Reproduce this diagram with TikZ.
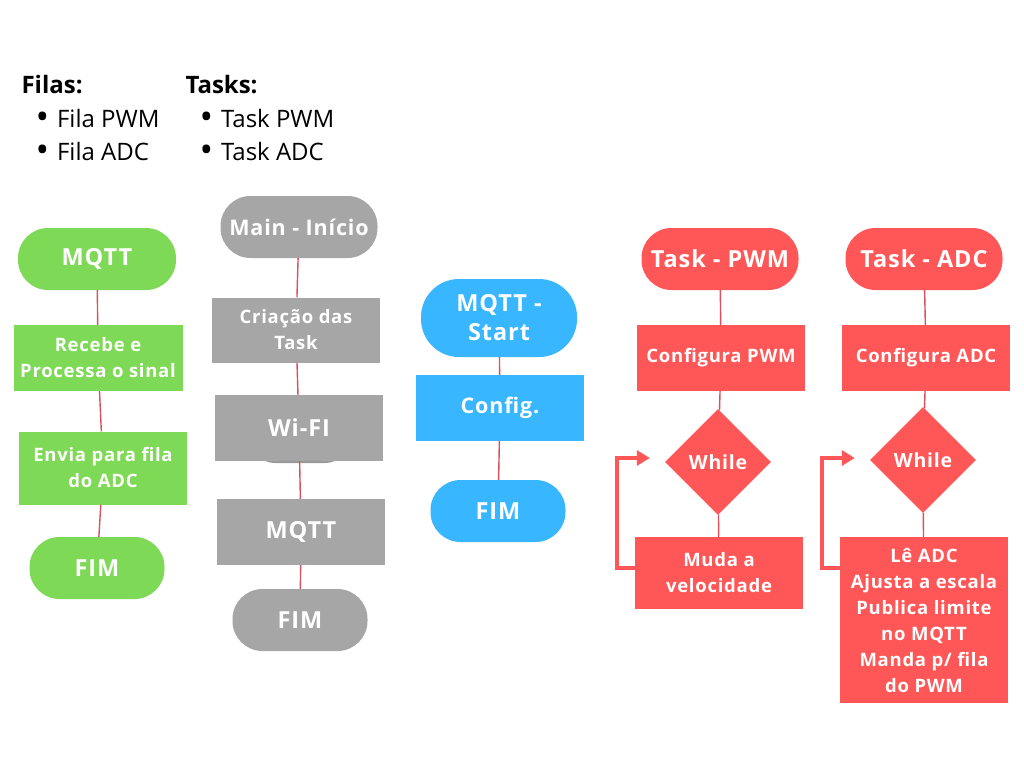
\documentclass[tikz,border=0pt]{standalone}
\usepackage{fontspec}
\setmainfont{Open Sans}
\newfontfamily\boxfont[LetterSpace=4]{Open Sans}
\usetikzlibrary{shapes.geometric,arrows.meta}
\definecolor{mqttgreen}{HTML}{7ED957}
\definecolor{maingray}{HTML}{A6A6A6}
\definecolor{startblue}{HTML}{38B6FF}
\definecolor{taskred}{HTML}{FF5757}
\definecolor{linkred}{HTML}{D9505E}
\newcommand{\bigdot}{\raisebox{-2.5pt}{\fontsize{36}{28}\selectfont\textbullet}\hspace{8pt}}

\begin{document}
\begin{tikzpicture}[x=1pt,y=-1pt,
    terminal/.style={rounded corners=30pt,minimum width=158pt,minimum height=62pt,
        text=white,font=\boxfont\bfseries\fontsize{23.5}{29}\selectfont,align=center,inner sep=0pt},
    process/.style={minimum width=168pt,minimum height=66pt,text=white,
        font=\boxfont\bfseries\fontsize{18.5}{26}\selectfont,align=center,inner sep=0pt},
    bigtext/.style={font=\boxfont\bfseries\fontsize{23.5}{26}\selectfont},
    decision/.style={diamond,aspect=1,minimum size=106pt,inner sep=0pt,text=white,
        font=\boxfont\bfseries\fontsize{19.5}{22}\selectfont},
    link/.style={draw=linkred,line width=1.4pt},
    loopback/.style={draw=taskred,line width=3.5pt,-{Triangle[length=13pt,width=15pt]}},
    heading/.style={anchor=base west,font=\bfseries\fontsize{24}{28}\selectfont},
    bullet/.style={anchor=base west,font=\fontsize{24}{28}\selectfont}]
    \useasboundingbox (0,0) rectangle (1024,768);

    % Lists at the top
    \node[heading] (filas) at (18,93) {Filas:};
    \node[heading] (tasks) at (182,93) {Tasks:};
    \node[bullet] (filapwm) at (32,127) {\bigdot Fila PWM};
    \node[bullet] (filaadc) at (32,160) {\bigdot Fila ADC};
    \node[bullet] (taskpwm) at (196,127) {\bigdot Task PWM};
    \node[bullet] (taskadc) at (196,160) {\bigdot Task ADC};

    % MQTT column
    \node[terminal,fill=mqttgreen] (mqtt) at (97,259) {MQTT};
    \node[process,fill=mqttgreen,minimum width=169pt] (recebe) at (98,358) {Recebe e\\Processa o sinal};
    \node[process,fill=mqttgreen,minimum height=73pt] (envia) at (103,468) {Envia para fila\\do ADC};
    \node[terminal,fill=mqttgreen,minimum width=135pt] (mqttfim) at (97,568) {FIM};

    % Main column
    \node[terminal,fill=maingray,minimum width=157pt,font=\boxfont\bfseries\fontsize{21.5}{26}\selectfont] (main) at (299,227) {Main - Início};
    \node[process,fill=maingray,minimum height=65pt] (criacao) at (296,330) {Criação das\\Task};
    \fill[maingray!92!black,rounded corners=25pt] (250,412) rectangle (350,463);
    \node[process,fill=maingray,bigtext] (wifi) at (299,428) {Wi-FI};
    \node[process,fill=maingray,bigtext] (mainmqtt) at (301,532) {MQTT};
    \node[terminal,fill=maingray,minimum width=135pt] (mainfim) at (300,620) {FIM};

    % MQTT start column
    \node[terminal,fill=startblue,minimum width=156pt,minimum height=78pt,rounded corners=38pt] (start) at (499,318) {MQTT -\\Start};
    \node[process,fill=startblue,font=\boxfont\bfseries\fontsize{21.5}{26}\selectfont] (config) at (500,408) {Config.};
    \node[terminal,fill=startblue,minimum width=135pt] (startfim) at (498,511) {FIM};

    % Task PWM column
    \node[terminal,fill=taskred,minimum width=157pt] (pwm) at (720,259) {Task - PWM};
    \node[process,fill=taskred] (cfgpwm) at (721,358) {Configura PWM};
    \node[decision,fill=taskred] (whilepwm) at (718,462) {While};
    \node[process,fill=taskred,minimum height=72pt] (muda) at (719,573) {Muda a\\velocidade};

    % Task ADC column
    \node[terminal,fill=taskred,minimum width=157pt] (adc) at (924,259) {Task - ADC};
    \node[process,fill=taskred] (cfgadc) at (926,358) {Configura ADC};
    \node[decision,fill=taskred] (whileadc) at (923,460) {While};
    \node[process,fill=taskred,minimum height=166pt] (le) at (924,620)
        {Lê ADC\\Ajusta a escala\\Publica limite\\no MQTT\\Manda p/ fila\\do PWM};

    % Draw edges
    \draw[link] (mqtt) -- (recebe);
    \draw[link] (recebe) -- (envia);
    \draw[link] (envia) -- (mqttfim);
    \draw[link] (main) -- (criacao);
    \draw[link] (criacao) -- (wifi);
    \draw[link] (wifi) -- (mainmqtt);
    \draw[link] (mainmqtt) -- (mainfim);
    \draw[link] (start) -- (config);
    \draw[link] (config) -- (startfim);
    \draw[link] (pwm) -- (cfgpwm);
    \draw[link] (cfgpwm) -- (whilepwm);
    \draw[link] (whilepwm) -- (muda);
    \draw[link] (adc) -- (cfgadc);
    \draw[link] (cfgadc) -- (whileadc);
    \draw[link] (whileadc) -- (le);

    % Loops back to the While
    \draw[loopback] ([yshift=5pt]muda.west) -- ++(-18,0) |- ([xshift=-15pt,yshift=4pt]whilepwm.west);
    \draw[loopback] ([yshift=52pt]le.west) -- ++(-18,0) |- ([xshift=-15pt,yshift=2pt]whileadc.west);

\end{tikzpicture}
\end{document}
